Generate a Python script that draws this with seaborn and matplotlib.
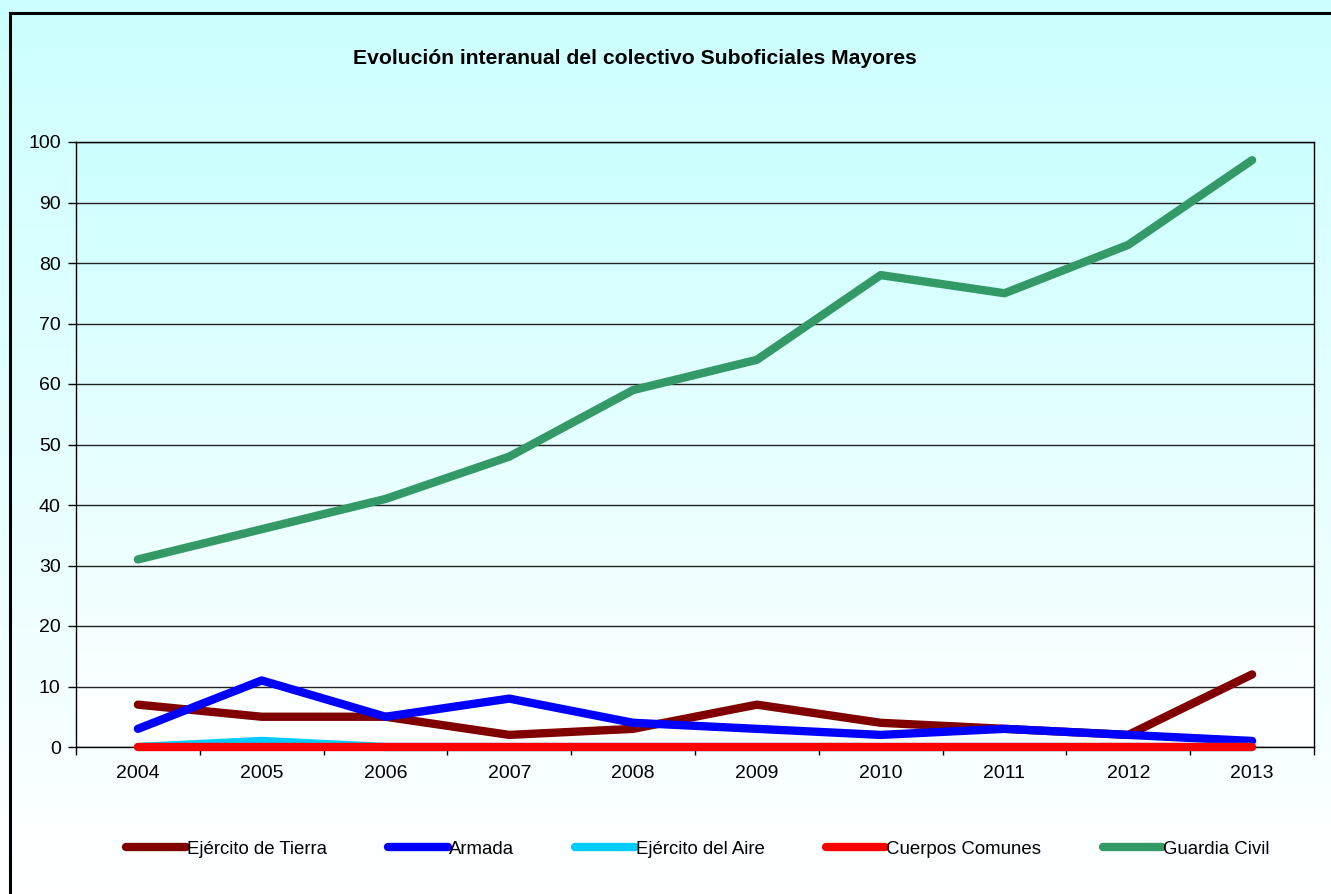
import numpy as np
import pandas as pd
import seaborn as sns
import matplotlib.pyplot as plt
from matplotlib.colors import LinearSegmentedColormap
from matplotlib.patches import Rectangle

# Data
years = [2004, 2005, 2006, 2007, 2008, 2009, 2010, 2011, 2012, 2013]
tierra = [7, 5, 5, 2, 3, 7, 4, 3, 2, 12]
armada = [3, 11, 5, 8, 4, 3, 2, 3, 2, 1]
aire = [0, 1, 0, 0, 0, 0, 0, 0, 0, 0]
comunes = [0, 0, 0, 0, 0, 0, 0, 0, 0, 0]
guardia = [31, 36, 41, 48, 59, 64, 78, 75, 83, 97]

series_names = ['Ejército de Tierra', 'Armada', 'Ejército del Aire', 'Cuerpos Comunes', 'Guardia Civil']
series_colors = ['#800000', '#0000FF', '#00CCFF', '#FF0000', '#339966']

df = pd.DataFrame({
    'year': years * 5,
    'value': tierra + armada + aire + comunes + guardia,
    'serie': [n for n in series_names for _ in years],
})

sns.set_theme(style='white')
plt.rcParams['font.family'] = ['Liberation Sans', 'DejaVu Sans']

W, H = 1331, 894
fig = plt.figure(figsize=(W / 100, H / 100), dpi=100)
fig.patch.set_facecolor('white')

grad = LinearSegmentedColormap.from_list('g', ['#CCFFFF', '#FFFFFF'])

# figure background gradient
bg = fig.add_axes([0, 0, 1, 1], zorder=-2)
bg.imshow(np.linspace(0, 1, 256).reshape(-1, 1), aspect='auto', cmap=grad,
          extent=[0, 1, 0, 1], origin='upper')
bg.axis('off')

# plot area
left, right, top, bottom = 76, 1314, 142, 747
rect = [left / W, 1 - bottom / H, (right - left) / W, (bottom - top) / H]

pbg = fig.add_axes(rect, zorder=-1)
pbg.imshow(np.linspace(0, 1, 256).reshape(-1, 1), aspect='auto', cmap=grad,
           extent=[0, 1, 0, 1], origin='upper')
pbg.axis('off')

ax = fig.add_axes(rect)
ax.set_facecolor('none')

sns.lineplot(data=df, x='year', y='value', hue='serie', palette=series_colors,
             hue_order=series_names, linewidth=6, solid_capstyle='round',
             ax=ax, legend=True, zorder=3)
for ln in ax.lines:
    ln.set_clip_on(False)

ax.set_xlim(2003.5, 2013.5)
ax.set_ylim(0, 100)
ax.set_yticks(range(0, 101, 10))
ax.set_xticks(years)
ax.set_xticks([y - 0.5 for y in years] + [2013.5], minor=True)
ax.tick_params(axis='x', which='major', length=0, pad=13, labelsize=14, colors='black')
ax.tick_params(axis='x', which='minor', length=6, width=1, color='black', direction='out', bottom=True)
ax.tick_params(axis='y', which='major', length=6, width=1, color='black', direction='out', left=True,
               labelsize=14, pad=5, labelcolor='black')
ax.yaxis.grid(True, color='#222222', linewidth=1)
ax.set_axisbelow(True)
for s in ax.spines.values():
    s.set_visible(True)
    s.set_color('black')
    s.set_linewidth(1)
    s.set_zorder(2)
ax.set_xlabel('')
ax.set_ylabel('')

handles, labels = ax.get_legend_handles_labels()
ax.legend_.remove()
leg = fig.legend(handles, labels, loc='center', bbox_to_anchor=(698 / W, 1 - 849 / H),
                 ncol=5, frameon=False, fontsize=13.4, handlelength=3.2, handletextpad=0.05,
                 columnspacing=3.3)
for t in leg.get_texts():
    t.set_color('black')
for h in leg.legend_handles:
    h.set_linewidth(6)
    h.set_solid_capstyle('round')

fig.text(635 / W, 1 - 58 / H, 'Evolución interanual del colectivo Suboficiales Mayores',
         ha='center', va='center', fontsize=15.2, fontweight='bold', color='black')

# outer frame of the chart
fig.patches.append(Rectangle((10 / W, -0.1), 1.2, 1 - 13 / H + 0.1, transform=fig.transFigure,
                             fill=False, edgecolor='black', linewidth=2.2, zorder=5))

fig.savefig('out.png', dpi=100)
